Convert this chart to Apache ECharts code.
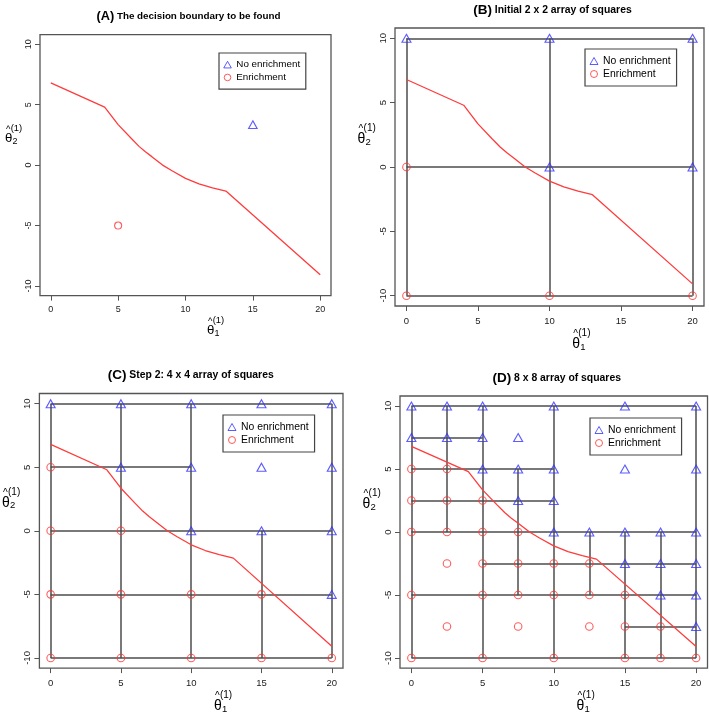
<!DOCTYPE html>
<html><head><meta charset="utf-8">
<script src="https://cdn.jsdelivr.net/npm/echarts@6/dist/echarts.min.js"></script>
<style>html,body{margin:0;padding:0;background:#fff}#c{width:709px;height:715px}</style>
</head><body><div id="c"></div>
<script>
const xTicks=[0,5,10,15,20];
const yTicks=[-10,-5,0,5,10];
const boundaryX=[0,4,5,6,6.55,7,7.5,8.3,9,10,11,12,13,20];
const boundaryY=[6.8,4.8,3.35,2.18,1.55,1.12,0.7,0,-0.47,-1.1,-1.55,-1.88,-2.15,-9.08];

const titleTags=['(A)','(B)','(C)','(D)'];
const titleTexts=['The decision boundary to be found','Initial 2 x 2 array of squares','Step 2: 4 x 4 array of squares','8 x 8 array of squares'];
const legendNames=['No enrichment','Enrichment'];

// Panel A
const aNoX=[15], aNoY=[3.35];
const aEnX=[5], aEnY=[-5];
// Panel B
const bNoX=[0,10,20,10,20], bNoY=[10,10,10,0,0];
const bEnX=[0,0,10,20], bEnY=[0,-10,-10,-10];
const bHY=[10,0,-10], bHX0=[0,0,0], bHX1=[20,20,20];
const bVX=[0,10,20], bVY0=[-10,-10,-10], bVY1=[10,10,10];
// Panel C
const cNoX=[0,5,10,15,20,5,10,15,20,10,15,20,20];
const cNoY=[10,10,10,10,10,5,5,5,5,0,0,0,-5];
const cEnX=[0,0,5,0,5,10,15,0,5,10,15,20];
const cEnY=[5,0,0,-5,-5,-5,-5,-10,-10,-10,-10,-10];
const cHY=[10,5,0,-5,-10], cHX0=[0,0,0,0,0], cHX1=[20,10,20,20,20];
const cVX=[0,5,10,15,20], cVY0=[-10,-10,-10,-10,-10], cVY1=[10,10,10,0,10];
// Panel D
const dNoX=[0,2.5,5,10,15,20, 0,2.5,5,7.5, 5,7.5,10,15,20, 7.5,10, 10,12.5,15,17.5,20, 15,17.5,20, 17.5,20, 20];
const dNoY=[10,10,10,10,10,10, 7.5,7.5,7.5,7.5, 5,5,5,5,5, 2.5,2.5, 0,0,0,0,0, -2.5,-2.5,-2.5, -5,-5, -7.5];
const dEnX=[0,2.5, 0,2.5,5, 0,2.5,5,7.5, 2.5,5,7.5,10,12.5, 0,5,7.5,10,12.5,15, 2.5,7.5,12.5,15,17.5, 0,5,10,15,17.5,20];
const dEnY=[5,5, 2.5,2.5,2.5, 0,0,0,0, -2.5,-2.5,-2.5,-2.5,-2.5, -5,-5,-5,-5,-5,-5, -7.5,-7.5,-7.5,-7.5,-7.5, -10,-10,-10,-10,-10,-10];
const dHY=[10,7.5,5,2.5,0,-2.5,-5,-7.5,-10], dHX0=[0,0,0,0,0,5,0,15,0], dHX1=[20,5,10,10,20,20,20,20,20];
const dVX=[0,2.5,5,7.5,10,12.5,15,17.5,20], dVY0=[-10,0,-10,-5,-10,-5,-10,-10,-10], dVY1=[10,10,10,5,10,0,0,0,10];

const zip=(xs,ys)=>xs.map((x,i)=>[x,ys[i]]);
function segs(hy,hx0,hx1,vx,vy0,vy1){
  const out=[];
  hy.forEach((y,i)=>out.push({coords:[[hx0[i],y],[hx1[i],y]]}));
  vx.forEach((x,i)=>out.push({coords:[[x,vy0[i]],[x,vy1[i]]]}));
  return out;
}

const panels=[
  {grid:{left:40,top:34.6,width:291,height:261},k:0.945,titleTop:5,yGap:13,leg:{left:219,top:53},
   no:zip(aNoX,aNoY),en:zip(aEnX,aEnY),segs:[]},
  {grid:{left:395,top:28,width:309,height:278},k:1,titleTop:-2,yGap:16.5,leg:{left:585,top:49},
   no:zip(bNoX,bNoY),en:zip(bEnX,bEnY),segs:segs(bHY,bHX0,bHX1,bVX,bVY0,bVY1)},
  {grid:{left:32.5,top:393.5,width:310.5,height:278},k:1,titleTop:363,yGap:15,leg:{left:223,top:415},
   no:zip(cNoX,cNoY),en:zip(cEnX,cEnY),segs:segs(cHY,cHX0,cHX1,cVX,cVY0,cVY1)},
  {grid:{left:400,top:396,width:307.5,height:277},k:1,titleTop:366,yGap:16.5,leg:{left:590,top:418},
   no:zip(dNoX,dNoY),en:zip(dEnX,dEnY),segs:segs(dHY,dHX0,dHX1,dVX,dVY0,dVY1)}
];

const font='"Liberation Sans", Arial, Helvetica, sans-serif';
const option={animation:false,textStyle:{fontFamily:font},title:[],legend:[],grid:[],xAxis:[],yAxis:[],series:[]};

function nameRich(k){
  return {
    h:{fontSize:10*k,width:5*k,align:'left',lineHeight:10*k,fontFamily:font,color:'#000',padding:[2*k,0,0,1*k]},
    s:{fontSize:10*k,width:12.5*k,align:'left',lineHeight:10*k,fontFamily:font,color:'#000'},
    t:{fontSize:14*k,width:8*k,align:'left',lineHeight:12*k,fontFamily:font,color:'#000'},
    u:{fontSize:9.5*k,width:10*k,align:'left',lineHeight:12*k,padding:[6*k,0,0,0],fontFamily:font,color:'#000'}
  };
}

panels.forEach((p,i)=>{
  const k=p.k;
  const g=p.grid;
  option.grid.push({left:g.left,top:g.top,width:g.width,height:g.height,show:true,borderColor:'#555',borderWidth:1.3,backgroundColor:'transparent'});
  option.title.push({
    text:`{a|${titleTags[i]}} {b|${titleTexts[i]}}`,
    left:g.left+g.width/2-2, top:p.titleTop, textAlign:'center',
    textStyle:{fontSize:10*k,fontWeight:'bold',fontFamily:font,
      rich:{a:{fontSize:13.5*k,fontWeight:'bold',fontFamily:font,color:'#000'},
            b:{fontSize:10.4*k,fontWeight:'bold',fontFamily:font,color:'#000'}}}
  });
  option.legend.push({
    orient:'vertical',left:p.leg.left,top:p.leg.top,selectedMode:false,
    data:legendNames,
    borderColor:'#444',borderWidth:1.2,borderRadius:0,
    padding:[7*k,6*k,7*k,4.5*k],itemWidth:8*k,itemHeight:7*k,itemGap:3*k,
    itemStyle:{borderWidth:1},
    textStyle:{fontSize:10.4*k,color:'#000',fontFamily:font}
  });
  option.xAxis.push({
    gridIndex:i,type:'value',min:-0.8,max:20.8,
    splitLine:{show:false},
    axisLine:{show:false,onZero:false},
    axisTick:{show:true,customValues:xTicks,length:5,lineStyle:{color:'#555',width:1}},
    axisLabel:{customValues:xTicks,fontSize:9.5*k,color:'#222',margin:10*k,fontFamily:font},
    name:'{h|^}{s|(1)}\n{t|θ}{u|1}',nameLocation:'middle',nameGap:13*k,
    nameTextStyle:{padding:[0,0,0,64*k],rich:nameRich(k)}
  });
  option.yAxis.push({
    gridIndex:i,type:'value',min:-10.8,max:10.8,
    splitLine:{show:false},
    axisLine:{show:false,onZero:false},
    axisTick:{show:true,customValues:yTicks,length:5,lineStyle:{color:'#555',width:1}},
    axisLabel:{customValues:yTicks,fontSize:9.5*k,color:'#222',margin:7*k,rotate:90,fontFamily:font},
    name:'{h|^}{s|(1)}\n{t|θ}{u|2}',nameLocation:'middle',nameGap:p.yGap,nameRotate:0,
    nameTextStyle:{padding:[0,0,66*k,0],rich:nameRich(k)}
  });
  if(p.segs.length){
    option.series.push({type:'lines',coordinateSystem:'cartesian2d',xAxisIndex:i,yAxisIndex:i,
      data:p.segs,silent:true,z:1,lineStyle:{color:'#4d4d4d',width:1.5,opacity:1}});
  }
  option.series.push({type:'line',xAxisIndex:i,yAxisIndex:i,data:zip(boundaryX,boundaryY),
    showSymbol:false,symbol:'none',silent:true,z:2,lineStyle:{color:'#ff3b3b',width:1.3}});
  option.series.push({type:'scatter',name:legendNames[0],xAxisIndex:i,yAxisIndex:i,data:p.no,
    symbol:'triangle',symbolSize:[9*k,8*k],z:3,silent:true,
    itemStyle:{color:'rgba(0,0,0,0)',borderColor:'#3333ff',borderWidth:1.1}});
  option.series.push({type:'scatter',name:legendNames[1],xAxisIndex:i,yAxisIndex:i,data:p.en,
    symbol:'circle',symbolSize:7.5*k,z:3,silent:true,
    itemStyle:{color:'rgba(0,0,0,0)',borderColor:'#ff3333',borderWidth:1.1}});
});

const chart=echarts.init(document.getElementById('c'),null,{renderer:'canvas'});
chart.setOption(option);
</script>
</body></html>
